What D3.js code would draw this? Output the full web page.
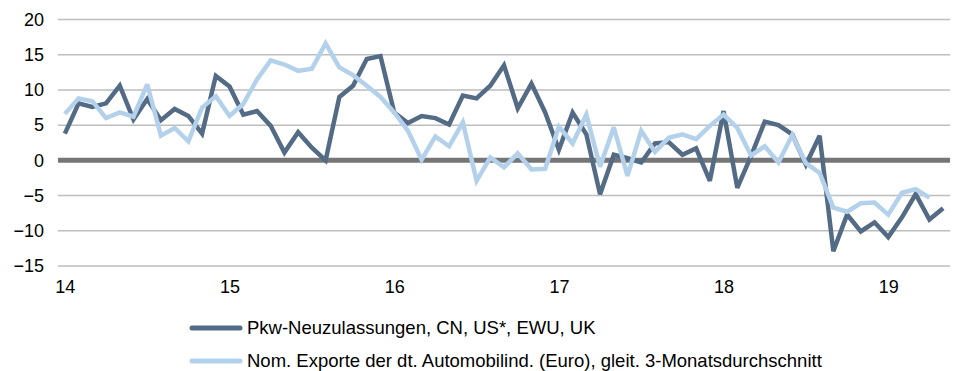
<!DOCTYPE html>
<html>
<head>
<meta charset="utf-8">
<script src="https://cdn.jsdelivr.net/npm/d3@7"></script>
<style>
  html, body { margin: 0; padding: 0; background: #fff; }
  svg { display: block; font-family: "Liberation Sans", Arial, sans-serif; }
</style>
</head>
<body>
<svg id="chart" width="957" height="371"></svg>
<script>
// Monthly categories Jan 2014 .. May 2019
const months = d3.range(65).map(i => {
  const y = 2014 + Math.floor(i / 12), m = (i % 12) + 1;
  return y + "-" + String(m).padStart(2, "0");
});

// Year-on-year change, %
const pkwNeuzulassungen = [
  3.8, 8.1, 7.6, 8.1, 10.6, 5.8, 8.7, 5.7, 7.3, 6.3, 3.8, 12.0,
  10.5, 6.5, 7.0, 4.9, 1.1, 4.0, 1.8, 0.0, 9.0, 10.6, 14.4, 14.8,
  6.8, 5.3, 6.3, 6.0, 5.1, 9.2, 8.8, 10.6, 13.5, 7.4, 10.9, 6.8,
  1.5, 6.8, 3.7, -4.8, 0.8, 0.3, -0.3, 2.4, 2.6, 0.8, 1.7, -2.9,
  7.0, -3.9, 0.6, 5.5, 5.0, 3.7, -0.6, 3.5, -12.9, -7.7, -10.1, -8.8,
  -10.9, -8.1, -4.8, -8.4, -6.8
];
const exporteAutomobil = [
  6.6, 8.8, 8.4, 6.0, 6.8, 6.2, 10.8, 3.5, 4.6, 2.7, 7.5, 9.1,
  6.3, 8.0, 11.5, 14.2, 13.6, 12.7, 13.0, 16.6, 13.2, 12.1, 10.6, 9.0,
  6.8, 4.2, 0.1, 3.4, 2.0, 5.4, -2.9, 0.4, -1.0, 1.0, -1.3, -1.2,
  4.8, 2.4, 6.5, -0.9, 4.7, -2.2, 4.2, 1.2, 3.2, 3.7, 3.0, 4.9,
  6.5, 4.6, 0.7, 2.0, -0.3, 3.6, -0.4, -1.8, -6.7, -7.3, -6.1, -6.0,
  -7.7, -4.6, -4.1, -5.3
];

const yTicks = [-15, -10, -5, 0, 5, 10, 15, 20];
const xTickLabels = ["14", "15", "16", "17", "18", "19"];
const seriesNames = [
  "Pkw-Neuzulassungen, CN, US*, EWU, UK",
  "Nom. Exporte der dt. Automobilind. (Euro), gleit. 3-Monatsdurchschnitt"
];
const seriesColors = ["#536b85", "#b4d1ec"];

const svg = d3.select("#chart");

const x = d3.scalePoint().domain(months).range([58, 950]).padding(0.5);
const y = d3.scaleLinear().domain([-15, 20]).range([266, 19.5]);

// Horizontal gridlines
svg.append("g")
  .selectAll("line")
  .data(yTicks.filter(v => v !== 0))
  .join("line")
  .attr("x1", 58).attr("x2", 950)
  .attr("y1", d => y(d)).attr("y2", d => y(d))
  .attr("stroke", "#bdbdbd")
  .attr("stroke-width", 1.5);

// Zero line
svg.append("line")
  .attr("x1", 58).attr("x2", 950)
  .attr("y1", y(0)).attr("y2", y(0))
  .attr("stroke", "#767676")
  .attr("stroke-width", 5);

// Y axis labels
const yAxis = d3.axisLeft(y).tickValues(yTicks).tickSize(0).tickPadding(0);
svg.append("g")
  .attr("transform", "translate(44,0)")
  .call(yAxis)
  .call(g => g.select(".domain").remove())
  .call(g => g.selectAll("text")
    .attr("font-size", 18)
    .attr("font-family", "Liberation Sans, Arial, sans-serif")
    .attr("fill", "#000"));

// X axis labels at each January
const yearMonths = xTickLabels.map((_, i) => months[i * 12]);
const xAxis = d3.axisBottom(x).tickValues(yearMonths)
  .tickFormat((d, i) => xTickLabels[i]).tickSize(0).tickPadding(0);
svg.append("g")
  .attr("transform", "translate(0,280)")
  .call(xAxis)
  .call(g => g.select(".domain").remove())
  .call(g => g.selectAll("text")
    .attr("font-size", 18)
    .attr("font-family", "Liberation Sans, Arial, sans-serif")
    .attr("fill", "#000"));

// Series lines
const line = d3.line()
  .x((d, i) => x(months[i]))
  .y(d => y(d));

[pkwNeuzulassungen, exporteAutomobil].forEach((values, k) => {
  svg.append("path")
    .datum(values)
    .attr("d", line)
    .attr("fill", "none")
    .attr("stroke", seriesColors[k])
    .attr("stroke-width", 4.5)
    .attr("stroke-linejoin", "miter")
    .attr("stroke-miterlimit", 3);
});

// Legend
const legend = svg.append("g");
seriesNames.forEach((name, k) => {
  const ly = 328 + k * 33;
  legend.append("line")
    .attr("x1", 192).attr("x2", 240)
    .attr("y1", ly).attr("y2", ly)
    .attr("stroke", seriesColors[k])
    .attr("stroke-width", 5)
    .attr("stroke-linecap", "round");
  legend.append("text")
    .attr("x", 247).attr("y", ly)
    .attr("dy", "0.35em")
    .attr("font-size", 18.5)
    .attr("fill", "#000")
    .text(name);
});
</script>
</body>
</html>
